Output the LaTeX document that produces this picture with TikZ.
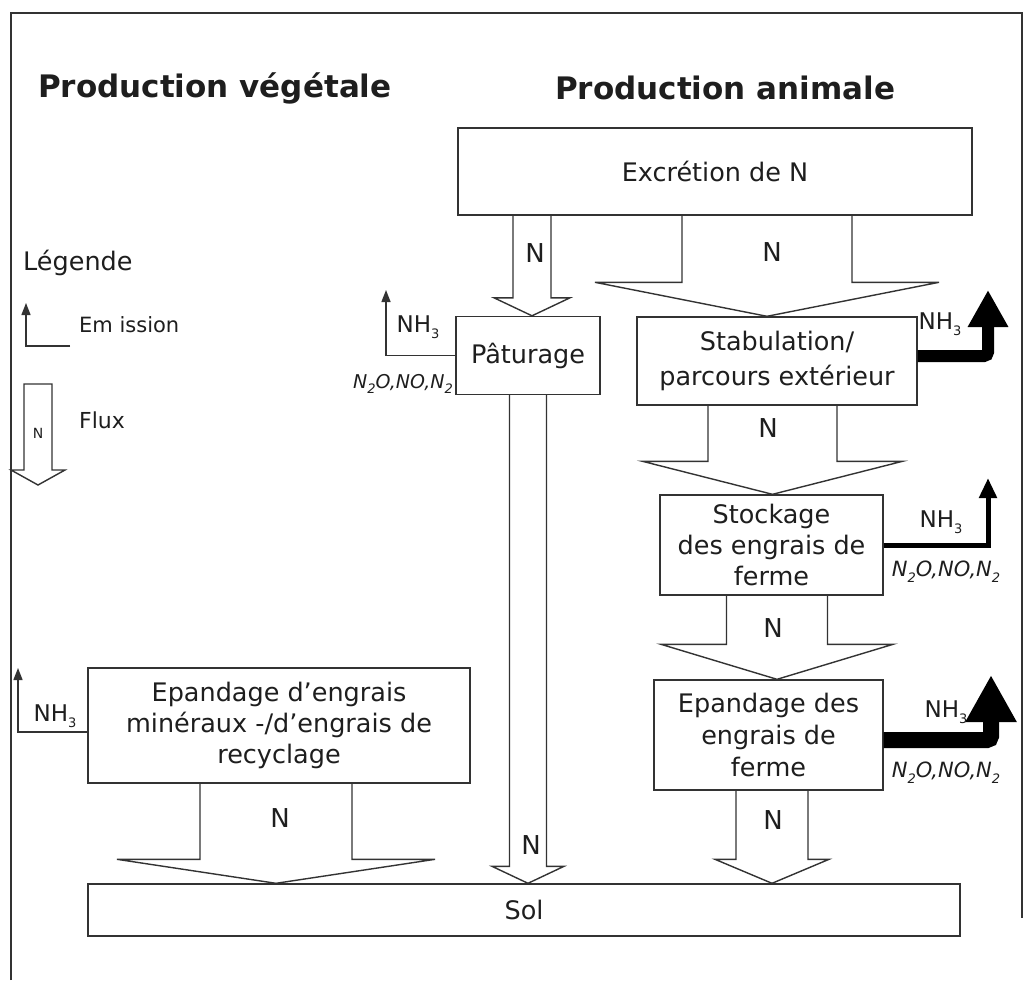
\documentclass[tikz,border=0pt]{standalone}
\usepackage{fontspec}
\setmainfont{DejaVu Sans}
\usetikzlibrary{arrows.meta,calc}
\definecolor{ln}{HTML}{333333}
\definecolor{tx}{HTML}{1E1E1E}
\newcommand\flowar[6]{%
  \coordinate (fx) at (#3,0);
  \draw[flow] ($(#1.south -| fx)+(-#4,0)$) -- ($(#2.north -| fx)+(-#4,-#6)$)
    -- ($(#2.north -| fx)+(-#5,-#6)$) -- (#2.north -| fx)
    -- ($(#2.north -| fx)+(#5,-#6)$) -- ($(#2.north -| fx)+(#4,-#6)$)
    -- ($(#1.south -| fx)+(#4,0)$);}
\newcommand\subsc[1]{\raisebox{-0.5ex}{\fontsize{13}{13}\selectfont #1}}
\begin{document}
\begin{tikzpicture}[x=1pt,y=-1pt,
  box/.style={draw=ln, line width=1.4pt, fill=white, inner sep=0pt, align=center, text=tx,
    font=\fontsize{25.5}{32}\selectfont},
  flow/.style={draw=ln, line width=1.4pt, line join=miter},
  emit/.style={draw=ln, line width=1.4pt, -{Triangle[width=9pt,length=12pt]}},
  title/.style={font=\bfseries\fontsize{31}{36}\selectfont, text=tx, inner sep=0pt},
  lbl/.style={font=\fontsize{26}{30}\selectfont, text=tx, inner sep=0pt},
  gas/.style={font=\fontsize{23}{26}\selectfont, text=tx, inner sep=0pt},
  ox/.style={font=\itshape\fontsize{21}{24}\selectfont, text=tx, inner sep=0pt}]
\useasboundingbox (0,0) rectangle (1032,980);
\fill[white] (0,0) rectangle (1032,980);
% frame
\draw[ln, line width=1.4pt] (11,980) -- (11,13) -- (1022,13) -- (1022,918);

% titles
\node[title, anchor=west] (t1) at (38,88) {Production végétale};
\node[title, anchor=west] (t2) at (555,88) {Production animale};

% boxes
\node[box, minimum width=514pt, minimum height=87pt] (excr) at (715,171.5) {Excrétion de N};
\node[box, minimum width=144pt, minimum height=78pt] (patur) at (528,355.5) {Pâturage};
\node[box, minimum width=280pt, minimum height=88pt, font=\fontsize{25.5}{35}\selectfont] (stab) at (777,361) {Stabulation/\\parcours extérieur};
\node[box, minimum width=223pt, minimum height=100pt, font=\fontsize{25.5}{31}\selectfont] (stock) at (771.5,545) {Stockage\\des engrais de\\ferme};
\node[box, minimum width=229pt, minimum height=110pt] (epf) at (768.5,735) {Epandage des\\engrais de\\ferme};
\node[box, minimum width=382pt, minimum height=115pt, font=\fontsize{25.5}{31}\selectfont] (epm) at (279,725.5) {Epandage d’engrais\\minéraux -/d’engrais de\\recyclage};
\node[box, minimum width=872pt, minimum height=52pt] (sol) at (524,910) {Sol};

% flows
\flowar{excr}{patur}{532}{19}{38}{18}
\flowar{excr}{stab}{767}{85}{172}{34}
\flowar{stab}{stock}{772.5}{64.5}{130}{33}
\flowar{stock}{epf}{777}{50.5}{116}{35}
\flowar{epf}{sol}{772}{36}{57}{24}
\flowar{patur}{sol}{528}{18.5}{36}{17}
\flowar{epm}{sol}{276}{76}{159}{24}

\node[lbl] (n1) at (535,253) {N};
\node[lbl] (n2) at (772,252) {N};
\node[lbl] (n3) at (768,428) {N};
\node[lbl] (n4) at (773,628) {N};
\node[lbl] (n5) at (773,820) {N};
\node[lbl] (n6) at (531,845) {N};
\node[lbl] (n7) at (280,818) {N};

% emissions (thin)
\coordinate (ep) at (386,290);
\draw[emit] (patur.west) -| (ep);
\node[gas] (g1) at (418,327) {NH\subsc{3}};
\node[ox, anchor=east, font=\itshape\fontsize{19}{22}\selectfont] (o1) at (453,384) {N\subsc{2}O,NO,N\subsc{2}};

\coordinate (em0) at (88,732);
\coordinate (em) at (18,668);
\draw[emit] (em0) -| (em);
\node[gas] (g2) at (55,716) {NH\subsc{3}};

% emissions (thick)
\coordinate (s0) at ($(stab.east)+(0,-5)$);
\coordinate (s1) at (988,290);
\draw[black, line width=12pt, rounded corners=4pt, -{Triangle[width=38pt,length=37pt]}] (s0) -| (s1);
\node[gas] (g3) at (940,324) {NH\subsc{3}};

\coordinate (k1) at (988,478);
\draw[black, line width=5pt, -{Triangle[width=17pt,length=20pt]}] (stock.east) -| (k1);
\node[gas] (g4) at (941,522) {NH\subsc{3}};
\node[ox] (o4) at (946,572) {N\subsc{2}O,NO,N\subsc{2}};

\coordinate (f0) at ($(epf.east)+(0,5)$);
\coordinate (f1) at (991,675);
\draw[black, line width=16pt, rounded corners=4pt, -{Triangle[width=48pt,length=47pt]}] (f0) -| (f1);
\node[gas] (g5) at (946,712) {NH\subsc{3}};
\node[ox] (o5) at (946,773) {N\subsc{2}O,NO,N\subsc{2}};

% legend
\node[lbl, anchor=west, font=\fontsize{25.5}{30}\selectfont] (leg) at (23,263) {Légende};
\coordinate (l0) at (70,346);
\coordinate (l1) at (26,303);
\draw[emit] (l0) -| (l1);
\node[lbl, anchor=west, font=\fontsize{21}{24}\selectfont] (lem) at (79,325) {Em ission};
\draw[flow] (24,384) -- (24,470) -- (11,470) -- (38,485) -- (65,470) -- (52,470) -- (52,384) -- cycle;
\node[lbl, font=\fontsize{14}{16}\selectfont] (ln) at (38,433) {N};
\node[lbl, anchor=west, font=\fontsize{22}{24}\selectfont] (lfl) at (79,420) {Flux};
\end{tikzpicture}
\end{document}
